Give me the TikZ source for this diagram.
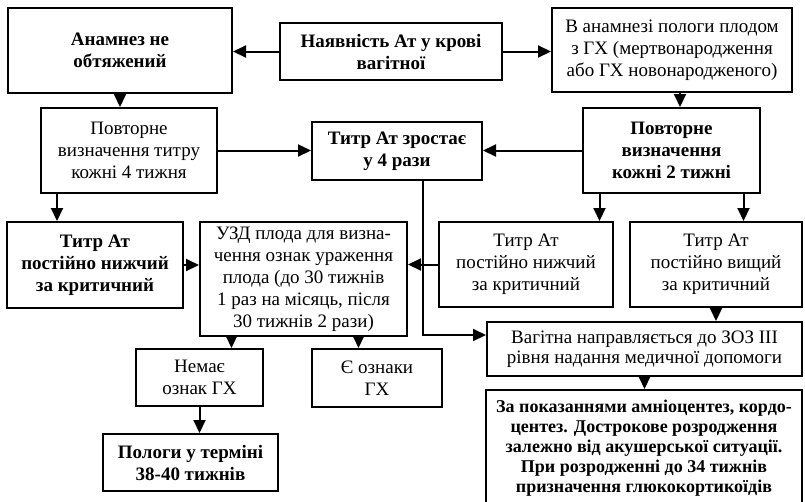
\documentclass[tikz,border=0pt]{standalone}
\usepackage{fontspec}
\setmainfont{Liberation Serif}
\usetikzlibrary{arrows.meta,calc}
\tikzset{
    block/.style = {draw, rectangle, line width=2pt, inner sep=2pt,
        align=center, font=\fontsize{19pt}{22pt}\selectfont},
    bblock/.style = {block, font=\fontsize{19pt}{22pt}\selectfont\bfseries},
    arrow/.style = {draw, line width=2pt, -{Triangle[length=13pt,width=12pt]}}
}
\begin{document}
\begin{tikzpicture}[x=1pt,y=-1pt]
    \useasboundingbox (0,0) rectangle (805,501);
    \clip (0,0) rectangle (805,501);
    % top row
    \node[bblock, minimum width=224pt, minimum height=85pt] (anam) at (120,50.5) {Анамнез не\\обтяжений};
    \node[bblock, minimum width=222pt, minimum height=57pt] (ant) at (391,51.5) {Наявність Ат у крові\\вагітної};
    \node[block, minimum width=240pt, minimum height=84pt] (hist) at (672,50) {В анамнезі пологи плодом\\з ГХ (мертвонародження\\або ГХ новонародженого)};
    % second row
    \node[block, minimum width=176pt, minimum height=85pt] (rep4) at (129,150.5) {Повторне\\визначення титру\\кожні 4 тижня};
    \node[bblock, minimum width=170pt, minimum height=58pt] (rise) at (397,151) {Титр Ат зростає\\у 4 рази};
    \node[bblock, minimum width=177pt, minimum height=85pt] (rep2) at (671.5,150.5) {Повторне\\визначення\\кожні 2 тижні};
    % third row
    \node[bblock, minimum width=176pt, minimum height=86pt] (lowL) at (95,265) {Титр Ат\\постійно нижчий\\за критичний};
    \node[block, minimum width=207pt, minimum height=114pt] (usd) at (303.5,279) {УЗД плода для визна-\\чення ознак ураження\\плода (до 30 тижнів\\1 раз на місяць, після\\30 тижнів 2 рази)};
    \node[block, minimum width=174pt, minimum height=85pt] (lowR) at (526,264.5) {Титр Ат\\постійно нижчий\\за критичний};
    \node[block, minimum width=172pt, minimum height=85pt] (high) at (716,264.5) {Титр Ат\\постійно вищий\\за критичний};
    % lower part
    \node[block, minimum width=315pt, minimum height=54pt, font=\fontsize{19pt}{20pt}\selectfont] (refer) at (644.5,349) {Вагітна направляється до ЗОЗ III\\рівня надання медичної допомоги};
    \node[bblock, anchor=north, minimum width=316pt, inner ysep=10pt, font=\fontsize{18pt}{20pt}\selectfont\bfseries] (indic) at (644,389) {За показаннями амніоцентез, кордо-\\центез. Дострокове розродження\\залежно від акушерської ситуації.\\При розродженні до 34 тижнів\\призначення глюкокортикоїдів};
    \node[block, minimum width=127pt, minimum height=57pt] (noGH) at (199.5,377.5) {Немає\\ознак ГХ};
    \node[block, minimum width=130pt, minimum height=58pt] (yesGH) at (377,378) {Є ознаки\\ГХ};
    \node[bblock, minimum width=175pt, minimum height=57pt] (birth) at (190.5,462.5) {Пологи у терміні\\38-40 тижнів};
    % connectors
    \draw[arrow] (ant.west) -- (ant.west -| anam.east);
    \draw[arrow] (ant.east) -- (ant.east -| hist.west);
    \draw[arrow] (anam.south) -- (anam.south |- rep4.north);
    \draw[arrow] ([xshift=8pt]hist.south) -- ([xshift=8pt]hist.south |- rep2.north);
    \draw[arrow] (rep4.east) -- (rep4.east -| rise.west);
    \draw[arrow] (rep2.west) -- (rep2.west -| rise.east);
    \draw[arrow] ([xshift=-72pt]rep4.south) -- ([xshift=-72pt]rep4.south |- lowL.north);
    \draw[arrow] ([xshift=-72pt]rep2.south) -- ([xshift=-72pt]rep2.south |- lowR.north);
    \draw[arrow] ([xshift=72pt]rep2.south) -- ([xshift=72pt]rep2.south |- high.north);
    \draw[arrow] (lowL.east) -- (lowL.east -| usd.west);
    \draw[arrow] (lowR.west) -- (lowR.west -| usd.east);
    \draw[arrow] ([xshift=26pt]rise.south) |- ([yshift=14pt]refer.west);
    \draw[arrow] (high.south) -- (high.south |- refer.north);
    \draw[arrow] (refer.south) -- (refer.south |- indic.north);
    \draw[arrow] ([xshift=-72pt]usd.south) -- ([xshift=-72pt]usd.south |- noGH.north);
    \draw[arrow] ([xshift=55pt]usd.south) -- ([xshift=55pt]usd.south |- yesGH.north);
    \draw[arrow] (noGH.south) -- (noGH.south |- birth.north);
\end{tikzpicture}
\end{document}
